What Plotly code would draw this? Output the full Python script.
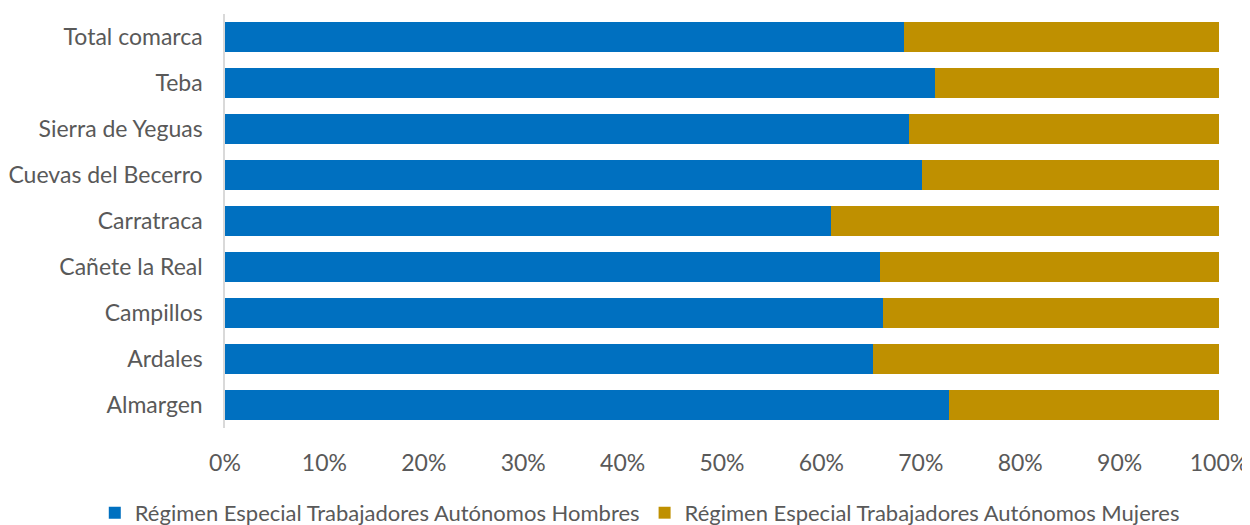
import plotly.graph_objects as go

# categories bottom -> top
municipios = [
    "Almargen",
    "Ardales",
    "Campillos",
    "Cañete la Real",
    "Carratraca",
    "Cuevas del Becerro",
    "Sierra de Yeguas",
    "Teba",
    "Total comarca",
]

# share of self-employed (%)
hombres = [72.8, 65.2, 66.2, 65.9, 61.0, 70.1, 68.8, 71.4, 68.3]
mujeres = [round(100 - h, 1) for h in hombres]

tick_vals = [0, 10, 20, 30, 40, 50, 60, 70, 80, 90, 100]
tick_text = [f"{v}%" for v in tick_vals]

FONT = "Lato"
TEXT_COLOR = "#595959"

fig = go.Figure()
fig.add_trace(
    go.Bar(
        y=municipios,
        x=hombres,
        orientation="h",
        name="Régimen Especial Trabajadores Autónomos Hombres",
        marker=dict(color="#0070C0", line=dict(width=0)),
    )
)
fig.add_trace(
    go.Bar(
        y=municipios,
        x=mujeres,
        orientation="h",
        name="Régimen Especial Trabajadores Autónomos Mujeres",
        marker=dict(color="#BF9000", line=dict(width=0)),
    )
)

# page body has an 8px margin, so the figure is offset by that much
fig.update_layout(
    barmode="stack",
    bargap=0.33,
    width=1250,
    height=525,
    margin=dict(l=217, r=39, t=6, b=105, autoexpand=False),
    paper_bgcolor="white",
    plot_bgcolor="white",
    font=dict(family=FONT, size=23, color=TEXT_COLOR),
    showlegend=True,
    legend=dict(
        orientation="h",
        xanchor="left",
        x=-0.131,
        yanchor="middle",
        y=-0.205,
        font=dict(size=22, color=TEXT_COLOR),
        traceorder="normal",
        itemwidth=30,
        tracegroupgap=0,
    ),
    xaxis=dict(
        range=[0, 100],
        tickvals=tick_vals,
        ticktext=tick_text,
        showgrid=False,
        zeroline=False,
        showline=False,
        ticks="",
        ticklabelstandoff=19,
        automargin=False,
    ),
    yaxis=dict(
        showgrid=False,
        showline=True,
        linecolor="#D9D9D9",
        linewidth=1.5,
        ticks="",
        ticklabelstandoff=16,
        automargin=False,
    ),
)

fig.write_html("out.html")
